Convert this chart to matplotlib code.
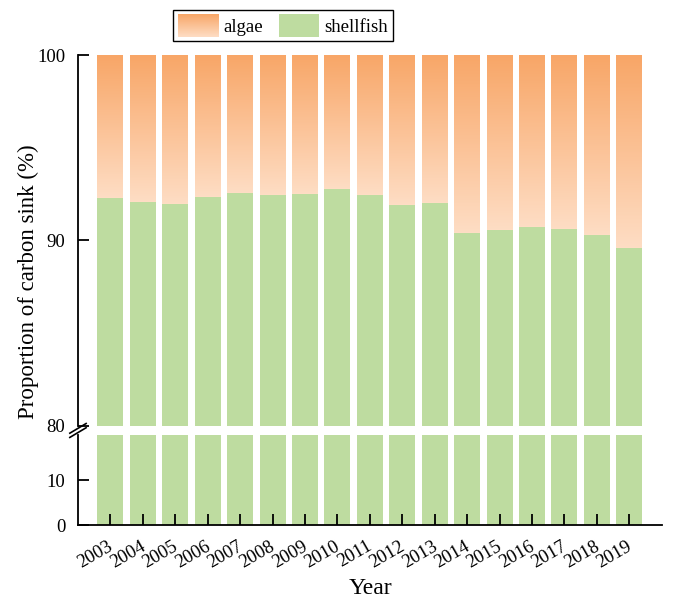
import numpy as np
import matplotlib
matplotlib.use("Agg")
import matplotlib.pyplot as plt
from matplotlib.colors import LinearSegmentedColormap
from matplotlib.legend_handler import HandlerBase
from matplotlib.image import BboxImage
from matplotlib.transforms import Bbox, TransformedBbox, ScaledTranslation
from matplotlib.patches import Patch

plt.rcParams['font.family'] = ['Liberation Serif', 'DejaVu Serif']

# data
years = ['2003', '2004', '2005', '2006', '2007', '2008', '2009', '2010', '2011',
         '2012', '2013', '2014', '2015', '2016', '2017', '2018', '2019']
shellfish = [92.3, 92.1, 91.95, 92.35, 92.55, 92.45, 92.5, 92.8, 92.45,
             91.9, 92.0, 90.4, 90.55, 90.75, 90.6, 90.3, 89.6]
algae = [100 - s for s in shellfish]

green = '#BEDCA0'
cmap_algae = LinearSegmentedColormap.from_list('algae', ['#FEDDC4', '#F8A667'])
grad = np.repeat(np.linspace(0, 1, 400).reshape(-1, 1), 2, axis=1)

x = np.arange(len(years))
w = 0.8

fig = plt.figure(figsize=(6.78, 6.05), dpi=100)
ax_top = fig.add_axes([0.115, 0.296, 0.861, 0.613])
ax_bot = fig.add_axes([0.115, 0.132, 0.861, 0.149])

for ax in (ax_top, ax_bot):
    ax.bar(x, shellfish, w, color=green)
    bars = ax.bar(x, algae, w, bottom=shellfish, color='none')
    if ax is ax_top:
        for b in bars:
            im = ax.imshow(grad, cmap=cmap_algae, aspect='auto', origin='lower',
                           extent=[b.get_x(), b.get_x() + b.get_width(),
                                   b.get_y(), b.get_y() + b.get_height()],
                           interpolation='nearest', zorder=1)
            im.set_clip_path(b)
    ax.set_xlim(-1, len(years))
    for s in ('top', 'right'):
        ax.spines[s].set_visible(False)
    for s in ('left', 'bottom'):
        ax.spines[s].set_linewidth(1.3)
    ax.tick_params(direction='in', length=8, width=1.3, labelsize=13.5)
    ax.tick_params(axis='y', pad=9)

ax_top.set_ylim(80, 100)
ax_top.set_yticks([80, 90, 100])
ax_top.spines['bottom'].set_visible(False)
ax_top.tick_params(axis='x', bottom=False, labelbottom=False)

ax_bot.set_ylim(0, 20)
ax_bot.set_yticks([0, 10])
ax_bot.set_xticks(x)
ax_bot.tick_params(axis='x', pad=9)
ax_bot.set_xticklabels(years, rotation=30, ha='right', rotation_mode='anchor')
shift = ScaledTranslation(-3 / 100, 0, fig.dpi_scale_trans)
for lab in ax_bot.get_xticklabels():
    lab.set_transform(lab.get_transform() + shift)

# break marks on the left spine
for yy in (0.292, 0.285):
    fig.add_artist(plt.Line2D([0.115 - 0.012, 0.115 + 0.012], [yy - 0.008, yy + 0.008],
                              color='black', lw=1.2, transform=fig.transFigure))

fig.text(0.042, 0.534, 'Proportion of carbon sink (%)', rotation=90,
         ha='center', va='center', fontsize=16.5)
fig.text(0.546, 0.028, 'Year', ha='center', va='center', fontsize=17)


class GradHandler(HandlerBase):
    def create_artists(self, legend, orig_handle, xdescent, ydescent,
                       width, height, fontsize, trans):
        bb = TransformedBbox(Bbox.from_bounds(-xdescent, -ydescent, width, height), trans)
        img = BboxImage(bb, cmap=cmap_algae, interpolation='nearest', origin='lower')
        img.set_data(grad)
        return [img]


h_algae = Patch(facecolor='#F8A667')
h_shell = Patch(facecolor=green)
leg = fig.legend([h_algae, h_shell], ['algae', 'shellfish'], ncol=2,
                 loc='center', bbox_to_anchor=(283 / 678, 1 - 25.5 / 605),
                 handler_map={h_algae: GradHandler()},
                 fontsize=13.5, handlelength=2.15, handleheight=1.45,
                 columnspacing=0.8, handletextpad=0.3, borderpad=0.25,
                 borderaxespad=0, fancybox=False, edgecolor='black', framealpha=1)
leg.get_frame().set_linewidth(1.0)

fig.savefig('out.png', dpi=100)
